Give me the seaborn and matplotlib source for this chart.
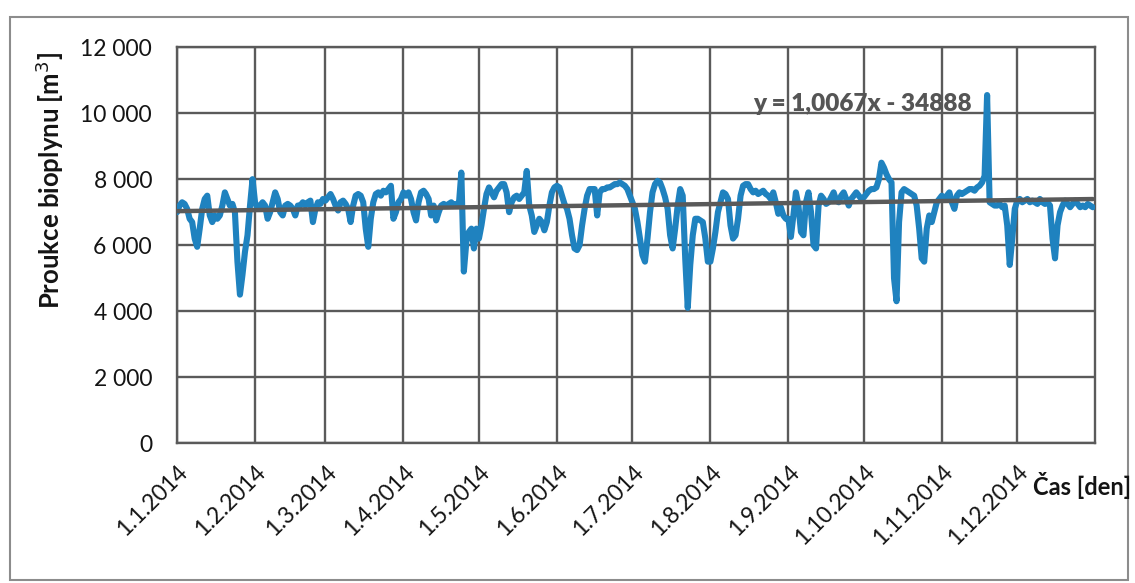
import matplotlib
matplotlib.use("Agg")
import matplotlib.pyplot as plt
from matplotlib.ticker import FuncFormatter, MultipleLocator
from matplotlib.patches import Rectangle
import numpy as np
import pandas as pd
import seaborn as sns

# Daily biogas production in 2014 [m3], one list per month
jan = [7000, 7200, 7300, 7250, 7100, 6800, 6700, 6200, 5950, 6500, 7100, 7400, 7500, 6900, 6700,
       6900, 6800, 6900, 7200, 7600, 7400, 7200, 7250, 7000, 5500, 4500, 5100, 5800, 6300, 7200, 8000]
feb = [7300, 7100, 7200, 7300, 7200, 6800, 7000, 7300, 7600, 7400, 7000, 6900, 7200, 7250,
       7200, 7100, 6900, 7200, 7200, 7300, 7200, 7300, 7350, 6700, 7100, 7300, 7250, 7400]
mar = [7350, 7450, 7550, 7400, 7200, 7050, 7300, 7350, 7250, 7100, 6700, 7200, 7500, 7550, 7500,
       7300, 6500, 5950, 6800, 7300, 7550, 7600, 7500, 7650, 7600, 7700, 7800, 6800, 7000, 7300, 7400]
apr = [7600, 7500, 7600, 7400, 7000, 6750, 7300, 7600, 7650, 7550, 7400, 6900, 7200, 6750, 7000,
       7200, 7250, 7200, 7250, 7300, 7200, 7250, 7200, 8200, 5200, 6100, 6400, 6500, 5900, 6500]
may = [6200, 6600, 7100, 7550, 7750, 7600, 7450, 7650, 7750, 7850, 7850, 7600, 7000, 7300, 7450,
       7500, 7400, 7500, 7600, 8250, 7200, 6900, 6400, 6600, 6800, 6700, 6450, 6700, 7200, 7600, 7750]
jun = [7800, 7750, 7500, 7250, 7100, 6800, 6300, 5900, 5850, 6000, 6600, 7100, 7500, 7700, 7700,
       7700, 6900, 7600, 7700, 7700, 7750, 7750, 7800, 7850, 7850, 7900, 7850, 7800, 7700, 7500]
jul = [7300, 7100, 6700, 6200, 5700, 5500, 6200, 7000, 7600, 7850, 7950, 7900, 7700, 7450, 7100,
       6300, 5900, 6500, 7200, 7700, 7500, 5600, 4100, 5400, 6300, 6800, 6800, 6750, 6700, 6200, 5500]
aug = [5500, 5900, 6400, 7000, 7300, 7600, 7550, 7400, 6600, 6200, 6300, 6800, 7500, 7800, 7850,
       7850, 7700, 7600, 7650, 7550, 7600, 7650, 7550, 7500, 7400, 7600, 7300, 6950, 7150, 6900, 6800]
sep = [6800, 6250, 6900, 7600, 7200, 6400, 6300, 7300, 7600, 7000, 6000, 5900, 7200, 7500, 7400,
       7250, 7300, 7450, 7600, 7350, 7300, 7500, 7600, 7400, 7200, 7400, 7500, 7600, 7500, 7400]
oct_ = [7450, 7550, 7650, 7700, 7700, 7750, 8000, 8500, 8350, 8150, 8000, 7900, 5000, 4300, 6700,
        7600, 7700, 7650, 7600, 7550, 7500, 7200, 6500, 5600, 5500, 6500, 6900, 6700, 7000, 7300, 7400]
nov = [7500, 7400, 7500, 7600, 7300, 7100, 7500, 7600, 7550, 7600, 7650, 7700, 7700, 7650, 7750,
       7800, 7900, 8100, 10550, 7300, 7250, 7200, 7200, 7250, 7150, 7200, 6600, 5400, 6200, 7100]
dec = [7350, 7400, 7300, 7350, 7400, 7300, 7350, 7300, 7250, 7400, 7300, 7250, 7300, 7200, 6200,
       5600, 6600, 7000, 7200, 7350, 7250, 7150, 7250, 7350, 7250, 7150, 7200, 7150, 7250, 7200, 7150]

months = [jan, feb, mar, apr, may, jun, jul, aug, sep, oct_, nov, dec]
month_ticks = ["1.1.2014", "1.2.2014", "1.3.2014", "1.4.2014", "1.5.2014", "1.6.2014",
               "1.7.2014", "1.8.2014", "1.9.2014", "1.10.2014", "1.11.2014", "1.12.2014"]

# Linear trend as reported by the spreadsheet (x = serial day number)
trend_slope = 1.0067
trend_intercept = -34888
trend_label = "y = 1,0067x - 34888"

values = np.concatenate([np.asarray(m, dtype=float) for m in months])
dates = pd.date_range("2014-01-01", periods=len(values), freq="D")
df = pd.DataFrame({"datum": dates, "bioplyn": values})

serial = (df["datum"] - pd.Timestamp("1899-12-30")).dt.days
df["trend"] = trend_slope * serial + trend_intercept

sns.set_theme(style="white")
plt.rcParams["font.family"] = ["Lato", "DejaVu Sans"]

fig = plt.figure(figsize=(11.35, 5.83), dpi=100)
ax = fig.add_axes([0.156, 0.240, 0.809, 0.679])

grid_col = "#5a5a5a"
text_col = "#141414"
sns.lineplot(data=df, x="datum", y="bioplyn", ax=ax, color="#1f82bf", linewidth=4.4,
             solid_joinstyle="round", solid_capstyle="round", zorder=3)
sns.lineplot(data=df, x="datum", y="trend", ax=ax, color=grid_col, linewidth=3.2, zorder=4)

ax.set_ylim(0, 12000)
ax.set_xlim(pd.Timestamp("2014-01-01"), pd.Timestamp("2015-01-01"))
ax.yaxis.set_major_locator(MultipleLocator(2000))
ax.yaxis.set_major_formatter(FuncFormatter(lambda v, p: f"{int(v):,}".replace(",", " ")))

tick_dates = pd.date_range("2014-01-01", periods=12, freq="MS")
ax.set_xticks(tick_dates)
ax.set_xticklabels(month_ticks, rotation=45, ha="right", rotation_mode="anchor")

ax.grid(True, color=grid_col, linewidth=1.7)
ax.set_axisbelow(True)
for s in ax.spines.values():
    s.set_color(grid_col)
    s.set_linewidth(1.7)

ax.tick_params(axis="both", which="major", length=6, width=1.7, color=grid_col,
               labelsize=16.5, labelcolor=text_col, direction="out")
ax.tick_params(axis="x", pad=7)
ax.tick_params(axis="y", pad=12)

ax.set_xlabel("")
ax.set_ylabel("Proukce bioplynu [m$^3$]", fontsize=18.5, fontweight="bold", color=text_col)
ax.yaxis.set_label_coords(-0.121, 0.664)

ax.text(0.627, 0.857, trend_label, transform=ax.transAxes, fontsize=17.5, fontweight="heavy",
        color="#555555", ha="left", va="center", zorder=5)

fig.text(0.910, 0.168, "Čas [den]", fontsize=17, fontweight="bold", color=text_col,
         ha="left", va="center")

# Chart frame
fig.patches.append(Rectangle((0.009, 0.006), 0.985, 0.964, transform=fig.transFigure,
                             fill=False, edgecolor="#8c8c8c", linewidth=1.5))

fig.savefig("out.png", dpi=100)
